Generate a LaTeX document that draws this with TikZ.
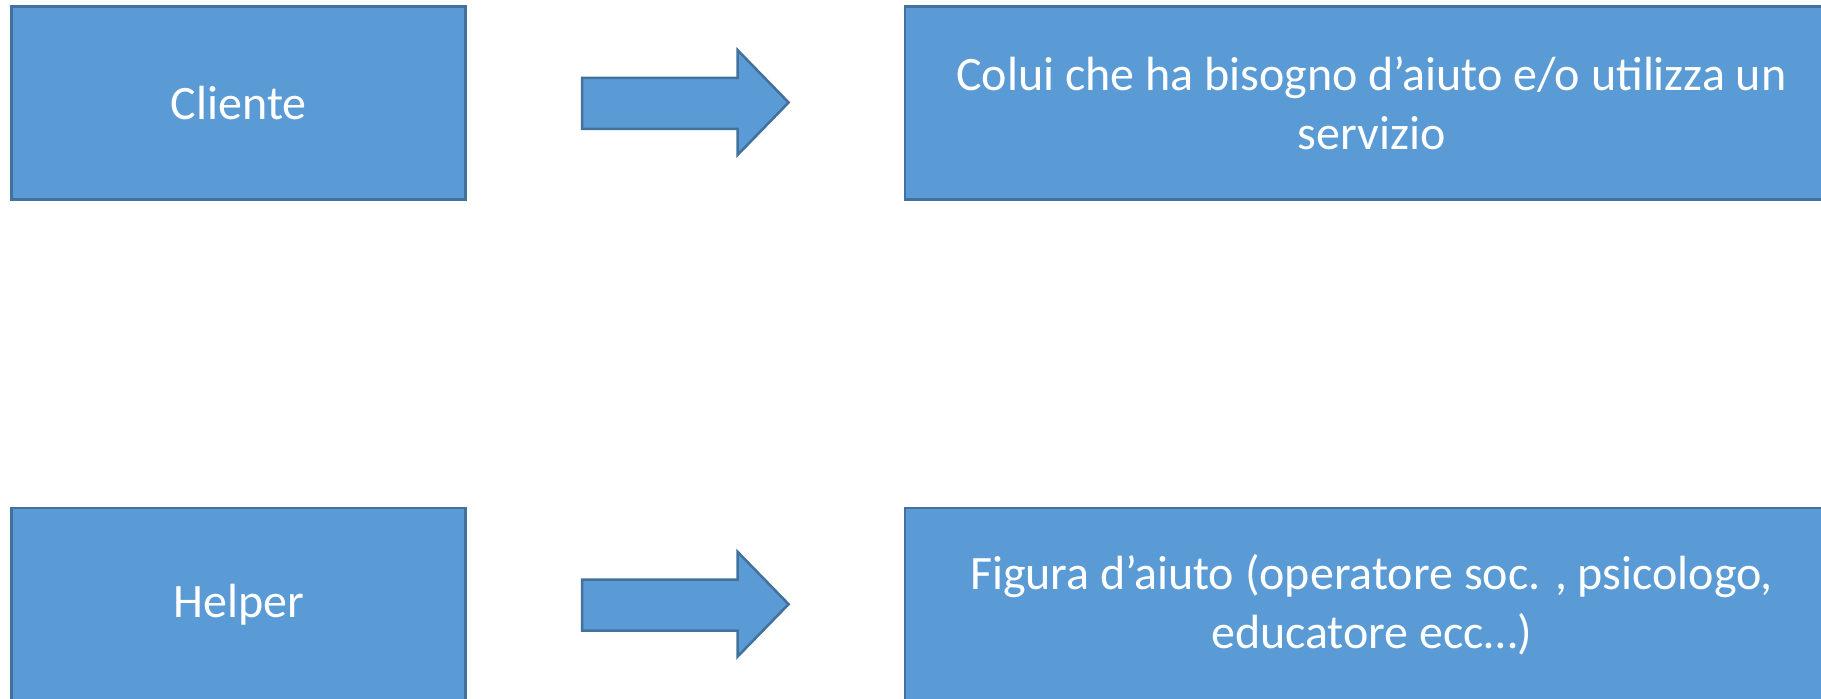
\documentclass[tikz,border=0pt]{standalone}
\usepackage{fontspec}
\setmainfont{Carlito}
\usepackage{xcolor}
\definecolor{boxblue}{HTML}{5B9BD5}
\definecolor{boxline}{HTML}{41719C}

\begin{document}
\begin{tikzpicture}[x=0.4pt,y=-0.4pt,
  blok/.style={draw=boxline,fill=boxblue,line width=1pt,text=white,align=center,
    font=\fontsize{19.2}{23.6}\selectfont,minimum height=77.2pt,inner sep=0pt},
  smallblok/.style={blok,minimum width=181.6pt},
  bigblok/.style={blok,minimum width=373.2pt},
  blokarrow/.style={draw=boxline,fill=boxblue,line width=1pt,line join=miter}]
\useasboundingbox (0,0) rectangle (1821,699);

  \node[smallblok] (cliente) at (238.7,102.8) {Cliente};
  \node[bigblok] (clientedef) at (1371.5,102.8) {Colui che ha bisogno d’aiuto e/o utilizza un\\servizio};
  \node[smallblok] (helper) at (238.7,604.5) {Helper};
  \node[bigblok] (helperdef) at (1371.5,604.5) {Figura d’aiuto (operatore soc. , psicologo,\\educatore ecc…)};

  % block arrows
  \draw[blokarrow] (582,78) -- (737.5,78) -- (737.5,50) -- (788.6,102.5) -- (737.5,155) -- (737.5,129) -- (582,129) -- cycle;
  \draw[blokarrow,yshift=-501.7*0.4pt] (582,78) -- (737.5,78) -- (737.5,50) -- (788.6,102.5) -- (737.5,155) -- (737.5,129) -- (582,129) -- cycle;

\end{tikzpicture}
\end{document}
